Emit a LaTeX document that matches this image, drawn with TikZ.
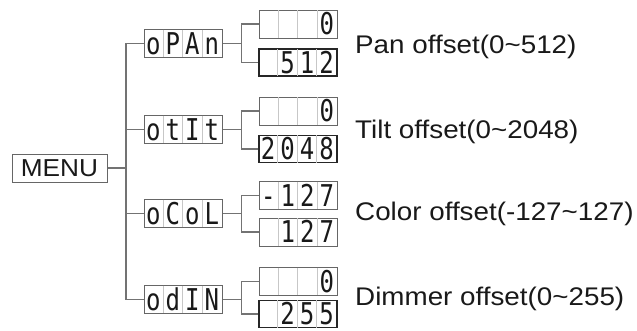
\documentclass[tikz,border=0pt]{standalone}
\usepackage{fontspec}
\setmainfont{Liberation Sans}
\newfontfamily\segfont{DejaVu Sans Mono}
\begin{document}
\begin{tikzpicture}[x=1pt,y=-1pt,
  wire/.style={draw=black!55,line width=1.3pt},
  menubox/.style={draw=black!60,line width=1pt,minimum width=95pt,minimum height=28pt,inner sep=0pt,
    font=\fontsize{24.5}{24.5}\selectfont,text=black!90},
  lcdframe/.style={draw=black!60,line width=1pt,minimum width=78pt,minimum height=28pt,inner sep=0pt},
  lcdbold/.style={draw=black!85,line width=1.4pt,minimum width=78pt,minimum height=27pt,inner sep=0pt},
  lcdgrid/.style={draw=black!22,line width=0.8pt},
  lcdchar/.style={anchor=base,inner sep=0pt,text depth=0pt,font=\segfont\fontsize{30}{30}\selectfont,text=black!90},
  caption/.style={anchor=base west,inner sep=0pt,font=\fontsize{25.5}{25.5}\selectfont,text=black!90}]
\useasboundingbox (0,0) rectangle (637,330);

% four-cell segment display: [style]{name}{x}{y}{c1}{c2}{c3}{c4}
\newcommand\lcdbox[8][lcdframe]{%
  \node[#1] (#2) at (#3,#4) {};
  \foreach \k in {1,2,3}
    \draw[lcdgrid] ([xshift=\k*19.5pt,yshift=-0.6pt]#2.north west) -- ([xshift=\k*19.5pt,yshift=0.6pt]#2.south west);
  \node[lcdchar] (#2-1) at ([xshift=9.75pt,yshift=-10.5pt]#2.west) {\scalebox{0.8}[1]{#5}};
  \node[lcdchar] (#2-2) at ([xshift=29.25pt,yshift=-10.5pt]#2.west) {\scalebox{0.8}[1]{#6}};
  \node[lcdchar] (#2-3) at ([xshift=48.75pt,yshift=-10.5pt]#2.west) {\scalebox{0.8}[1]{#7}};
  \node[lcdchar] (#2-4) at ([xshift=68.25pt,yshift=-10.5pt]#2.west) {\scalebox{0.8}[1]{#8}};
}

% root
\node[menubox] (menu) at (59.5,168) {\scalebox{1.07}[1]{MENU}};

% menu entries
\lcdbox{pan}{183}{43.5}{o}{P}{A}{n}
\lcdbox{tilt}{183}{129.5}{o}{t}{I}{t}
\lcdbox{color}{183}{213.5}{o}{C}{o}{L}
\lcdbox{dim}{183}{299.5}{o}{d}{I}{N}

% values
\lcdbox{panA}{298}{24}{}{}{}{0}
\lcdbox[lcdbold]{panB}{298}{62.5}{}{5}{1}{2}
\lcdbox{tiltA}{298}{111}{}{}{}{0}
\lcdbox[lcdbold]{tiltB}{298}{149}{2}{0}{4}{8}
\lcdbox{colorA}{298}{195.5}{-}{1}{2}{7}
\lcdbox{colorB}{298}{232}{}{1}{2}{7}
\lcdbox{dimA}{298}{281.5}{}{}{}{0}
\lcdbox[lcdbold]{dimB}{298}{314}{}{2}{5}{5}

% trunk from MENU to the entries
\coordinate (trunk) at (126,168);
\draw[wire] (menu.east) -- (trunk);
\draw[wire] (pan.west) -- (pan.west -| trunk) -- (dim.west -| trunk) -- (dim.west);
\draw[wire] (tilt.west) -- (tilt.west -| trunk);
\draw[wire] (color.west) -- (color.west -| trunk);

% forks from each entry to its two values
\foreach \e in {pan,tilt,color,dim}{
  \coordinate (\e-fork) at ([xshift=19pt]\e.east);
  \draw[wire] (\e.east) -- (\e-fork);
  \draw[wire] (\e A.west) -| (\e-fork) |- (\e B.west);
}

% captions
\node[caption] (panT) at (355,53) {\scalebox{1.09}[1]{Pan offset(0\char`\~512)}};
\node[caption] (tiltT) at (355,138) {\scalebox{1.09}[1]{Tilt offset(0\char`\~2048)}};
\node[caption] (colorT) at (355,220) {\scalebox{1.09}[1]{Color offset(-127\char`\~127)}};
\node[caption] (dimT) at (355,305) {\scalebox{1.09}[1]{Dimmer offset(0\char`\~255)}};
\end{tikzpicture}
\end{document}
